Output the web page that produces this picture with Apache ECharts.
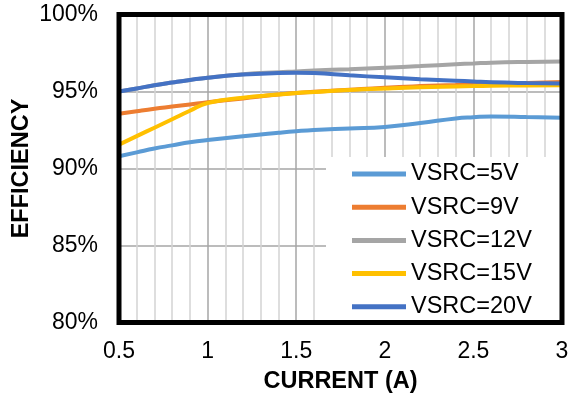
<!DOCTYPE html>
<html>
<head>
<meta charset="utf-8">
<script src="https://cdn.jsdelivr.net/npm/echarts@6/dist/echarts.min.js"></script>
<style>html,body{margin:0;padding:0;background:#fff;}#c{width:576px;height:402px;}</style>
</head>
<body>
<div id="c"></div>
<script>
var currents = [0.5,0.6,0.7,0.8,0.9,1.0,1.2,1.4,1.5,1.6,1.8,2.0,2.2,2.4,2.5,2.6,2.8,3.0];
var seriesNames = ['VSRC=5V','VSRC=9V','VSRC=12V','VSRC=15V','VSRC=20V'];
var v5  = [90.8,91.05,91.3,91.5,91.7,91.85,92.1,92.32,92.42,92.5,92.6,92.7,92.95,93.25,93.33,93.38,93.35,93.3];
var v9  = [93.55,93.72,93.88,94.02,94.16,94.3,94.55,94.8,94.9,94.98,95.12,95.25,95.35,95.43,95.47,95.5,95.56,95.62];
var v12 = [95.0,95.2,95.4,95.58,95.75,95.9,96.12,96.25,96.3,96.36,96.45,96.55,96.65,96.77,96.82,96.87,96.92,96.95];
var v15 = [91.55,92.1,92.65,93.2,93.75,94.25,94.6,94.8,94.9,94.97,95.1,95.2,95.28,95.33,95.35,95.37,95.39,95.4];
var v20 = [95.0,95.2,95.4,95.58,95.75,95.9,96.1,96.2,96.22,96.2,96.05,95.92,95.8,95.7,95.65,95.6,95.55,95.52];
var allValues = [v5, v9, v12, v15, v20];
var colors = ['#5B9BD5','#ED7D31','#A5A5A5','#FFC000','#4472C4'];
var xTicks = [0.5,1,1.5,2,2.5,3];
var yTicks = [80,85,90,95,100];

var FONT = '"Liberation Sans", Arial, sans-serif';
var chart = echarts.init(document.getElementById('c'));
var series = seriesNames.map(function(name, i){
  return {
    name: name,
    type: 'line',
    smooth: true,
    showSymbol: false,
    symbol: 'none',
    lineStyle: {width: 4, color: colors[i]},
    itemStyle: {color: colors[i]},
    data: currents.map(function(x, j){ return [x, allValues[i][j]]; })
  };
});
chart.setOption({
  animation: false,
  grid: {left: 119, right: 14, top: 14.5, bottom: 79.5, show: true, borderColor: '#000', borderWidth: 5, z: 10,
         containLabel: false, outerBoundsMode: 'none'},
  xAxis: {
    type: 'value', min: xTicks[0], max: xTicks[xTicks.length-1], interval: 0.5,
    name: 'CURRENT (A)', nameLocation: 'middle', nameGap: 47, nameMoveOverlap: false,
    nameTextStyle: {fontFamily: FONT, fontSize: 23.5, fontWeight: 'bold', color: '#000'},
    axisLine: {show: false}, axisTick: {show: false},
    axisLabel: {fontFamily: FONT, fontSize: 23, color: '#000', margin: 18},
    splitLine: {show: true, lineStyle: {color: '#A6A6A6', width: 1.5}},
    minorTick: {show: false, splitNumber: 5},
    minorSplitLine: {show: true, lineStyle: {color: '#D3D3D3', width: 1.5}}
  },
  yAxis: {
    type: 'value', min: yTicks[0], max: yTicks[yTicks.length-1], interval: 5,
    name: 'EFFICIENCY', nameLocation: 'middle', nameGap: 85, nameMoveOverlap: false,
    nameTextStyle: {fontFamily: FONT, fontSize: 23.5, fontWeight: 'bold', color: '#000'},
    axisLine: {show: false}, axisTick: {show: false},
    axisLabel: {fontFamily: FONT, fontSize: 23, color: '#000', margin: 21, formatter: '{value}%'},
    splitLine: {show: true, lineStyle: {color: '#A6A6A6', width: 1.5}}
  },
  legend: {
    orient: 'vertical', left: 326, top: 157,
    padding: [5, 30, 6, 26], backgroundColor: '#fff',
    itemWidth: 54, itemHeight: 5, itemGap: 9.2, icon: 'rect',
    textStyle: {fontFamily: FONT, fontSize: 23.5, color: '#000', lineHeight: 23.5},
    data: seriesNames, z: 5
  },
  series: series
});
</script>
</body>
</html>
